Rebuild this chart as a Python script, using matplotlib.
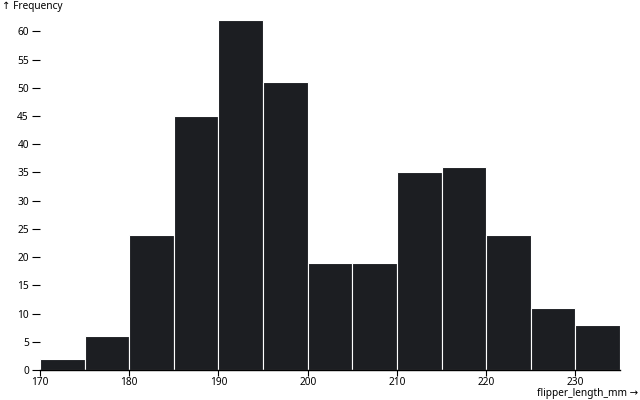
import numpy as np
import matplotlib
matplotlib.use("Agg")
from matplotlib import pyplot as plt

plt.rcParams['font.family'] = ['Noto Sans', 'DejaVu Sans']

bin_edges = [170, 175, 180, 185, 190, 195, 200, 205, 210, 215, 220, 225, 230, 235]
counts = [2, 6, 24, 45, 62, 51, 19, 19, 35, 36, 24, 11, 8]
x_ticks = [170, 180, 190, 200, 210, 220, 230]
y_ticks = list(range(0, 65, 5))

fig = plt.figure(figsize=(6.4, 4.0), dpi=100)
ax = fig.add_axes([40 / 640, 30 / 400, 580 / 640, 350 / 400])

lefts = np.array(bin_edges[:-1])
widths = np.diff(bin_edges)
ax.bar(lefts, counts, width=widths, align='edge', color='#1c1e22',
       edgecolor='white', linewidth=0.8)

ax.set_xlim(170, 235)
ax.set_ylim(0, 62)
for s in ['top', 'right', 'left']:
    ax.spines[s].set_visible(False)
ax.spines['bottom'].set_color('black')
ax.spines['bottom'].set_linewidth(1.0)

ax.set_xticks(x_ticks)
ax.set_yticks(y_ticks)
ax.tick_params(axis='both', labelsize=7.3, width=0.8, color='black')
ax.tick_params(axis='x', length=4.5, pad=0.5)
ax.tick_params(axis='y', length=6, pad=2)

fig.text(2 / 640, 1 - 7 / 400, "↑ Frequency", fontsize=7.3, ha='left', va='center')
fig.text(638 / 640, 1 - 393.5 / 400, "flipper_length_mm →", fontsize=7.3, ha='right', va='center')

fig.savefig("out.png", dpi=100)
